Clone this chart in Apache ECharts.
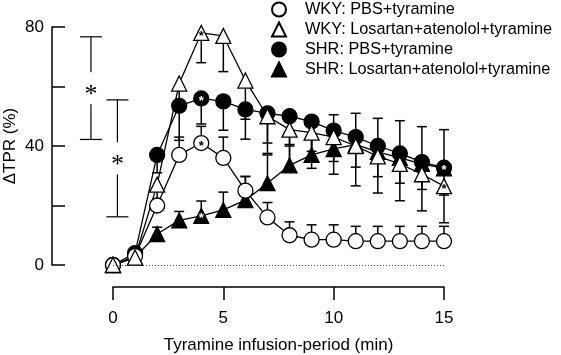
<!DOCTYPE html>
<html>
<head>
<meta charset="utf-8">
<script src="https://cdn.jsdelivr.net/npm/echarts@6/dist/echarts.min.js"></script>
<style>
html,body{margin:0;padding:0;background:#fff}
#chart{width:561px;height:355px}
</style>
</head>
<body>
<div id="chart"></div>
<script>
// infusion time (min)
var minutes = [0,1,2,3,4,5,6,7,8,9,10,11,12,13,14,15];

// ΔTPR (%) per group, error = SEM drawn one-sided
var wkyPbs    = [0, 3, 20, 37, 41, 36, 25, 16, 10, 8.5, 8.5, 8, 8, 8, 8, 8];
var wkyPbsErr = [0, 0, 1.5, 6, 5.6, 7, 4.7, 5, 4.5, 5, 5, 5, 5, 5, 5, 5];
var wkyLos    = [0, 2.5, 27, 61, 78, 77, 62, 50, 45.5, 44.5, 43, 40, 36.5, 34, 30.5, 26.5];
var wkyLosErr = [0, 0, 6, 6, 10, 12, 13, 12.5, 13, 12, 12.5, 13.4, 12.3, 12.4, 12.3, 12.3];
var shrPbs    = [0, 4, 37, 53.5, 56, 55, 52.3, 51, 50, 48.2, 45.2, 43, 40, 37.5, 34.6, 32.7];
var shrPbsErr = [0, 1, 6, 11.6, 8.6, 9.7, 10, 10, 10, 10, 10.4, 10.1, 10.3, 10, 9.2, 9.2];
var shrLos    = [0, 2.5, 10.4, 15, 16.5, 18.5, 21.8, 27.5, 33.5, 37, 39, 40.5, 38, 36, 34, 32.5];
var shrLosErr = [0, 0, 2.3, 3, 5, 6, 8, 9.5, 7, 10, 11.5, 10.5, 11.3, 12.5, 12.5, 13];

// points marked with an asterisk
var wkyPbsStar = [4];
var wkyLosStar = [4, 15];
var shrPbsStar = [4, 15];
var shrLosStar = [4];

// significance brackets on the left
var sigX    = [-1, 0.2];
var sigLow  = [42.2, 16.2];
var sigHigh = [76.7, 55.5];

var names = ['WKY: PBS+tyramine', 'WKY: Losartan+atenolol+tyramine',
             'SHR: PBS+tyramine', 'SHR: Losartan+atenolol+tyramine'];

var FONT = 'Liberation Sans, Arial, sans-serif';
var FS = 17;

function pts(vals, stars, starColor){
  return vals.map(function(v,i){
    var item = {value:[minutes[i], v]};
    if(stars.indexOf(i) >= 0){
      item.label = {show:true, position:'inside', formatter:'*', color:starColor,
                    fontSize:13, fontWeight:'bold', offset:[0,3]};
    }
    return item;
  });
}

function lineSeries(name, vals, symbol, size, fill, stars, starColor){
  return {
    type:'line', name:name, data:pts(vals, stars, starColor),
    symbol:symbol, symbolSize:size, showAllSymbol:true,
    lineStyle:{color:'#000', width:1.3},
    itemStyle:{color:fill, borderColor:'#000', borderWidth:1.3},
    emphasis:{disabled:true}, silent:true, z:3
  };
}

function errSeries(vals, errs, dir){
  return {
    type:'custom', silent:true, z:2,
    data: vals.map(function(v,i){ return [minutes[i], v, v + dir*errs[i]]; }),
    renderItem:function(params, api){
      if(api.value(1) === api.value(2)) return {type:'group', children:[]};
      var p0 = api.coord([api.value(0), api.value(1)]);
      var p1 = api.coord([api.value(0), api.value(2)]);
      var st = {stroke:'#000', lineWidth:1.5};
      return {type:'group', children:[
        {type:'line', shape:{x1:p0[0], y1:p0[1], x2:p1[0], y2:p1[1]}, style:st},
        {type:'line', shape:{x1:p1[0]-5, y1:p1[1], x2:p1[0]+5, y2:p1[1]}, style:st}
      ]};
    }
  };
}

var sigSeries = {
  type:'custom', silent:true, clip:false, z:2,
  data: sigX.map(function(x,i){ return [x, sigLow[i], sigHigh[i]]; }),
  renderItem:function(params, api){
    var lo = api.coord([api.value(0), api.value(1)]);
    var hi = api.coord([api.value(0), api.value(2)]);
    var x = lo[0], mid = (lo[1] + hi[1]) / 2;
    var st = {stroke:'#000', lineWidth:1.2};
    return {type:'group', children:[
      {type:'line', shape:{x1:x-11, y1:hi[1], x2:x+11, y2:hi[1]}, style:st},
      {type:'line', shape:{x1:x-11, y1:lo[1], x2:x+11, y2:lo[1]}, style:st},
      {type:'line', shape:{x1:x, y1:hi[1], x2:x, y2:mid-16}, style:st},
      {type:'line', shape:{x1:x, y1:mid+16, x2:x, y2:lo[1]}, style:st},
      {type:'text', style:{x:x, y:mid+7, text:'*', align:'center', verticalAlign:'middle',
        font:'26px Liberation Serif, serif', fill:'#000'}}
    ]};
  }
};

var chart = echarts.init(document.getElementById('chart'));
chart.setOption({
  animation:false,
  backgroundColor:'#fff',
  textStyle:{fontFamily:FONT},
  grid:{left:113, right:117, top:27, bottom:90, containLabel:false, outerBoundsMode:'none'},
  legend:{
    orient:'vertical', left:271, top:1, padding:0,
    itemWidth:14, itemHeight:14, itemGap:3,
    textStyle:{fontSize:16.3, color:'#000', lineHeight:17, fontFamily:FONT, padding:[0,0,0,14]},
    selectedMode:false,
    data:[
      {name:names[0], icon:'circle'},
      {name:names[1], icon:'triangle'},
      {name:names[2], icon:'circle'},
      {name:names[3], icon:'triangle'}
    ]
  },
  xAxis:{
    type:'value', min:0, max:15, interval:5, offset:22,
    axisLine:{show:true, onZero:false, lineStyle:{color:'#000', width:1.5}},
    axisTick:{show:true, length:13, lineStyle:{color:'#000', width:1.5}},
    axisLabel:{fontSize:FS, color:'#000', margin:23, fontFamily:FONT},
    splitLine:{show:false},
    name:'Tyramine infusion-period (min)', nameLocation:'middle', nameGap:50,
    nameMoveOverlap:false,
    nameTextStyle:{fontSize:FS, color:'#000', fontFamily:FONT}
  },
  yAxis:{
    type:'value', min:0, max:80, interval:20, offset:61,
    axisLine:{show:true, onZero:false, lineStyle:{color:'#000', width:1.5}},
    axisTick:{show:true, inside:true, length:13, lineStyle:{color:'#000', width:1.5}},
    axisLabel:{fontSize:FS, color:'#000', margin:8, fontFamily:FONT,
      formatter:function(v){ return v % 40 === 0 ? String(v) : ''; }},
    splitLine:{show:false},
    name:'ΔTPR (%)', nameLocation:'middle', nameGap:33,
    nameMoveOverlap:false,
    nameTextStyle:{fontSize:FS, color:'#000', fontFamily:FONT}
  },
  series:[
    errSeries(wkyPbs, wkyPbsErr, 1),
    errSeries(wkyLos, wkyLosErr, -1),
    errSeries(shrPbs, shrPbsErr, -1),
    errSeries(shrLos, shrLosErr, 1),
    sigSeries,
    Object.assign(lineSeries(names[3], shrLos, 'triangle', 15, '#000', shrLosStar, '#fff'), {
      markLine:{silent:true, symbol:'none', label:{show:false},
        lineStyle:{type:[1,2], color:'#444', width:1}, data:[{yAxis:0}]}
    }),
    lineSeries(names[2], shrPbs, 'circle', 15, '#000', shrPbsStar, '#fff'),
    lineSeries(names[0], wkyPbs, 'circle', 15, '#fff', wkyPbsStar, '#000'),
    lineSeries(names[1], wkyLos, 'triangle', 15, '#fff', wkyLosStar, '#000')
  ]
});
</script>
</body>
</html>
